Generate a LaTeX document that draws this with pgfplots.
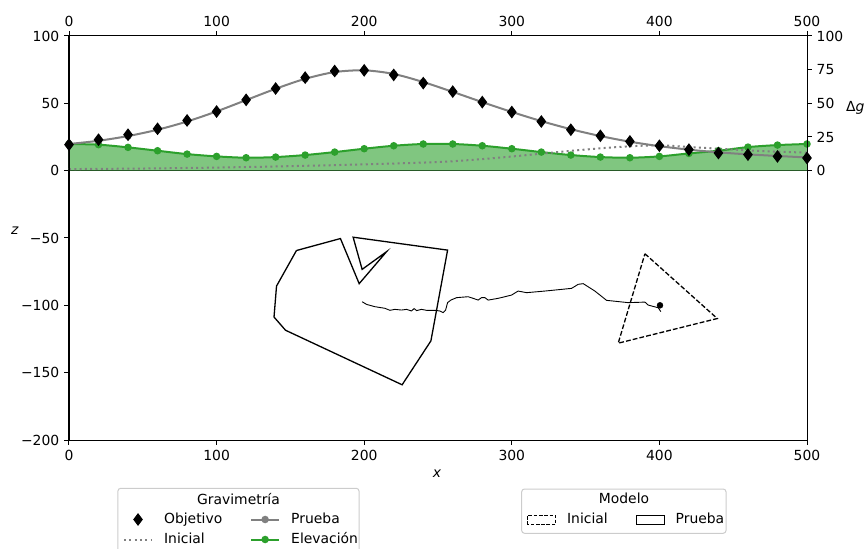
\documentclass[border=0pt]{standalone}
\usepackage{pgfplots}
\pgfplotsset{compat=1.18}
\usepackage{fontspec}
\setmainfont{DejaVu Sans}
\setsansfont{DejaVu Sans}
\definecolor{cgreen}{RGB}{44,160,44}
\definecolor{cfill}{RGB}{128,198,128}
\definecolor{cgray}{RGB}{128,128,128}
\definecolor{cframe}{RGB}{204,204,204}
\definecolor{czero}{RGB}{40,90,40}
\pgfplotsset{
  base/.style={
    scale only axis, width=738bp, height=404bp,
    xmin=0, xmax=500, ymin=-200, ymax=100,
    axis line style={line width=1bp},
    tick align=outside, major tick length=4.9bp,
    every tick/.style={black, line width=1bp},
    /pgf/number format/assume math mode=true,
    legend columns=2,
    legend cell align=left,
    legend image code/.code={\draw[mark repeat=2,mark phase=2,##1] plot coordinates {(0bp,0bp) (14bp,0bp) (28bp,0bp)};},
  },
  legbase/.style={draw=none, fill=none, inner sep=0pt, outer sep=0pt,
    row sep=7bp,
    nodes={inner sep=0pt, text height=10bp, text depth=3bp, anchor=west},
    /tikz/every odd column/.append style={column sep=11.1bp},
    /tikz/every even column/.append style={column sep=27.8bp}},
  patchlegend/.style={legend image code/.code={\draw[##1] (0bp,-4.9bp) rectangle (28bp,4.9bp);}},
}
\begin{document}
\fontsize{13.9bp}{16.7bp}\selectfont
\begin{tikzpicture}[font=\fontsize{13.9bp}{16.7bp}\selectfont]
\begin{axis}[base,
  xtick={0,100,...,500}, xtick pos=bottom,
  ytick={-200,-150,...,100}, ytick pos=left,
  yticklabels={−200,−150,−100,−50,0,50,100},
  xlabel={\textit{x}}, xlabel style={at={(axis description cs:0.4986,-0.0842)}, anchor=center},
  ylabel={\textit{z}}, ylabel style={at={(axis description cs:-0.0732,0.5173)}, anchor=center, rotate=-90},
  legend style={legbase, at={(axis description cs:0.0732,-0.1807)}, anchor=north west},
]
% elevation fill
\addplot[forget plot, draw=none, fill=cfill, smooth] coordinates {
(0,19.8) (20,19.3) (40,17.3) (60,14.8) (80,12.3) (100,10.6) (120,9.6) (140,10.1) (160,11.6) (180,13.8) (200,16.3) (220,18.5) (240,19.8) (260,19.8) (280,18.5) (300,16.3) (320,13.8) (340,11.6) (360,10.1) (380,9.6) (400,10.6) (420,12.8) (440,14.8) (460,17.5) (480,19.0) (500,19.8)
} \closedcycle;
\addplot[forget plot, czero, line width=0.8bp] coordinates {(0,0) (500,0)};
% elevation line
\addplot[forget plot, cgreen, line width=2bp, mark=*, mark size=2.7bp, smooth] coordinates {
(0,19.8) (20,19.3) (40,17.3) (60,14.8) (80,12.3) (100,10.6) (120,9.6) (140,10.1) (160,11.6) (180,13.8) (200,16.3) (220,18.5) (240,19.8) (260,19.8) (280,18.5) (300,16.3) (320,13.8) (340,11.6) (360,10.1) (380,9.6) (400,10.6) (420,12.8) (440,14.8) (460,17.5) (480,19.0) (500,19.8)
};
% initial gravity
\addplot[forget plot, cgray, line width=2bp, dash pattern=on 2bp off 3.3bp, smooth] coordinates {
(0,1.2) (20,1.3) (40,1.5) (60,1.7) (80,2.0) (100,2.3) (120,2.7) (140,3.1) (160,3.6) (180,4.1) (200,4.7) (220,5.3) (240,6.0) (260,7.0) (280,8.6) (300,10.5) (320,12.6) (340,14.7) (360,16.6) (380,18.1) (400,18.8) (420,17.6) (440,16.3) (460,15.1) (480,14.1) (500,13.4)
};
% trial gravity
\addplot[forget plot, cgray, line width=2bp, mark=*, mark size=2.7bp, smooth] coordinates {
(0,19.8) (20,22.2) (40,25.7) (60,30.4) (80,36.5) (100,44.0) (120,52.4) (140,60.8) (160,68.2) (180,73.2) (200,74.5) (220,71.8) (240,65.8) (260,58.5) (280,50.9) (300,43.6) (320,36.8) (340,30.8) (360,25.7) (380,21.5) (400,18.2) (420,15.6) (440,13.6) (460,12.1) (480,10.9) (500,9.8)
};
% target gravity
\addplot[forget plot, only marks, mark=diamond*, mark size=5.6bp, black, mark options={line width=1bp}] coordinates {
(0,19.3) (20,23.0) (40,26.7) (60,31.1) (80,37.3) (100,43.9) (120,52.6) (140,61.0) (160,69.1) (180,74.0) (200,74.5) (220,71.1) (240,65.0) (260,58.7) (280,50.9) (300,43.5) (320,36.5) (340,30.4) (360,25.9) (380,21.7) (400,18.5) (420,15.6) (440,13.1) (460,11.9) (480,10.6) (500,9.4)
};
% trial model polygon
\addplot[forget plot, black, line width=1.3bp] coordinates {
(154.1,-59.3) (183.9,-50.4) (196.6,-83.9) (215.1,-60.2) (198.6,-73.3) (192.5,-49.4) (256.5,-59.0) (245.2,-126.4) (225.7,-159.0) (146.7,-118.5) (138.9,-108.7) (140.6,-85.7) (154.1,-59.3)
};
% initial model triangle
\addplot[forget plot, black, line width=1.3bp, dash pattern=on 4.8bp off 2.1bp] coordinates {
(390.2,-61.7) (439.2,-109.8) (372.1,-128.1) (390.2,-61.7)
};
% trajectory
\addplot[forget plot, black, line width=0.9bp] coordinates {
(198.6,-97.3) (201.6,-99.3) (207.2,-101.0) (214.0,-102.2) (217.4,-103.7) (220.8,-103.0) (225.3,-103.5) (228.7,-103.0) (232.1,-104.2) (233.8,-102.4) (235.5,-103.9) (238.8,-103.0) (242.2,-103.7) (247.9,-103.7) (251.3,-104.2) (253.5,-105.4) (255.1,-103.7) (256.5,-98.0) (258.7,-96.1) (262.6,-94.3) (270.4,-93.6) (273.8,-94.8) (277.2,-96.1) (279.5,-94.3) (281.8,-94.3) (284.0,-96.1) (290.8,-94.8) (299.8,-92.4) (304.3,-89.4) (310.0,-90.6) (322.4,-89.4) (340.5,-87.4) (345.0,-84.4) (348.4,-83.9) (356.3,-89.4) (364.2,-96.3) (378.9,-98.0) (390.2,-97.6) (392.4,-99.8) (399.2,-101.8) (401.0,-104.7)
};
\addplot[forget plot, only marks, mark=*, mark size=3bp, black] coordinates {(400.4,-100.0)};
% legend
\addlegendimage{only marks, mark=diamond*, mark size=5.6bp, black, mark options={line width=1bp}}
\addlegendentry{Objetivo}
\addlegendimage{cgray, line width=2bp, mark=*, mark size=2.7bp}
\addlegendentry{Prueba}
\addlegendimage{cgray, line width=2bp, dash pattern=on 2bp off 3.3bp}
\addlegendentry{Inicial}
\addlegendimage{cgreen, line width=2bp, mark=*, mark size=2.7bp}
\addlegendentry{Elevación}
\end{axis}
\begin{axis}[base,
  xtick={0,100,...,500}, xtick pos=top, xticklabel pos=top,
  ytick={0,25,50,75,100}, ytick pos=right, yticklabel pos=right,
  legend style={legbase, at={(axis description cs:0.6206,-0.1820)}, anchor=north west},
]
\addlegendimage{patchlegend, black, line width=1bp, dash pattern=on 3.7bp off 1.6bp}
\addlegendentry{Inicial}
\addlegendimage{patchlegend, black, line width=1bp}
\addlegendentry{Prueba}
\end{axis}
\node[anchor=west, inner sep=0pt] at (777bp,332bp) {Δ\textit{g}};
\node at (169.5bp,-59bp) {Gravimetría};
\node at (555bp,-58bp) {Modelo};
\draw[cframe, line width=1bp, rounded corners=2.8bp] (48.9bp,-140bp) rectangle (290bp,-48.3bp);
\draw[cframe, line width=1bp, rounded corners=2.8bp] (452.7bp,-93.3bp) rectangle (657bp,-49bp);
\pgfresetboundingbox
\useasboundingbox (-69bp,-109bp) rectangle (795bp,440bp);
\end{tikzpicture}
\end{document}
